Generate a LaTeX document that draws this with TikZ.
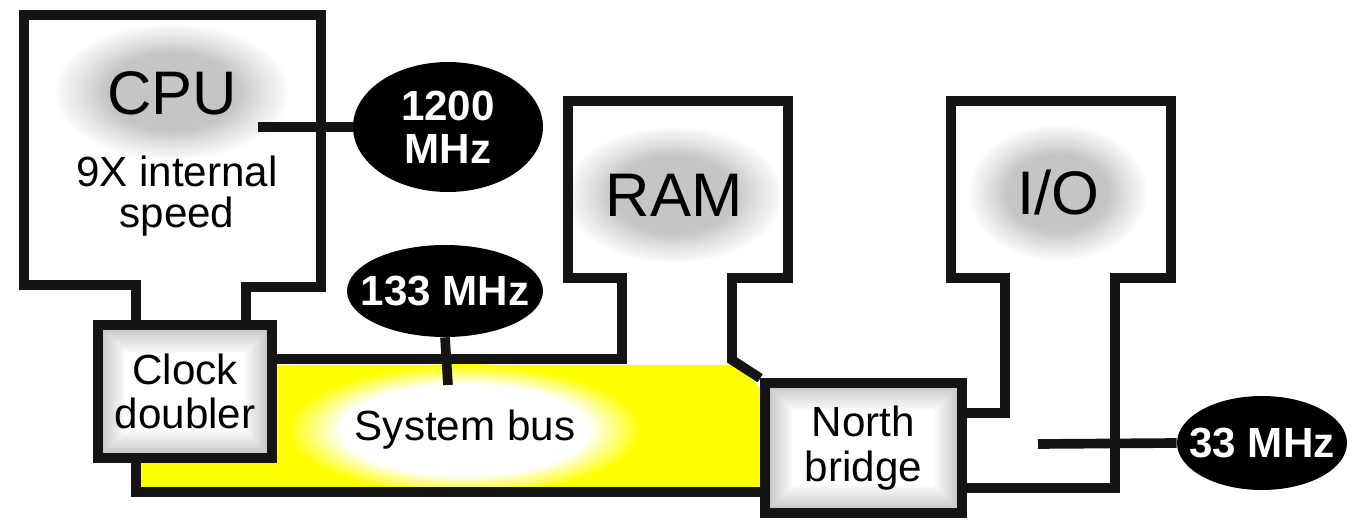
\documentclass[tikz,border=0pt]{standalone}
\usepackage{fontspec}
\setmainfont{Liberation Sans}
\usepackage{tikz}
\usetikzlibrary{shapes.geometric}
\definecolor{giallo}{HTML}{FFFF00}
\definecolor{alone}{HTML}{C4C4C4}

\begin{document}
\begin{tikzpicture}[x=0.02cm, y=-0.02cm,
    filo/.style={line width=5.5pt, black!92},
    chip/.style={draw=black!92, line width=5.5pt, fill=gray!50, align=center,
      font=\fontsize{24}{25.5}\selectfont,
      path picture={
        \foreach \d [evaluate=\d as \c using 50-2.5*\d] in {1,...,20}
          \fill[gray!\c] ([xshift=\d*0.8pt, yshift=-\d*0.8pt]path picture bounding box.north west)
            rectangle ([xshift=-\d*0.8pt, yshift=\d*0.8pt]path picture bounding box.south east);
      }},
    bolla/.style={ellipse, fill=black, inner sep=0pt},
    testobolla/.style={text=white, align=center, font=\bfseries\fontsize{24}{24.5}\selectfont},
    titolo/.style={anchor=base, font=\fontsize{35}{40}\selectfont},
    testo/.style={align=center, font=\fontsize{24}{23}\selectfont}]
  \useasboundingbox (0,0) rectangle (1353,520);
  % Bus di sistema
  \fill[giallo] (277,365) -- (738,365) -- (762,390) -- (762,488) -- (141,488)
    -- (141,463) -- (277,463) -- cycle;
  \foreach \i [evaluate=\i as \s using 1-\i*0.03, evaluate=\i as \p using {min(100,\i*10)}] in {0,...,15}
    \fill[white!\p!giallo] (465,430) ellipse ({180*\s} and {66*\s});
  % Aloni
  \foreach \i [evaluate=\i as \s using 1-\i*0.03, evaluate=\i as \p using \i*6.6] in {0,...,15} {
    \fill[alone!\p!white] (172,92) ellipse ({120*\s} and {70*\s});
    \fill[alone!\p!white] (674,195) ellipse ({112*\s} and {70*\s});
    \fill[alone!\p!white] (1058,193) ellipse ({92*\s} and {70*\s});
  }
  % Chip
  \node[chip, minimum width=3.48cm, minimum height=2.66cm] (cd) at (185,391.5) {Clock\\doubler};
  \node[chip, minimum width=3.94cm, minimum height=2.6cm] (nb) at (863.5,448) {North\\bridge};
  % Frequenze
  \node[bolla, minimum width=3.8cm, minimum height=2.6cm] (f1200) at (448,127) {};
  \node[testobolla] at (f1200) {1200\\MHz};
  \node[bolla, minimum width=3.92cm, minimum height=1.84cm] (f133) at (445,291) {};
  \node[testobolla] at (f133) {133 MHz};
  \node[bolla, minimum width=3.4cm, minimum height=1.88cm] (f33) at (1262,443) {};
  \node[testobolla] at (f33) {33 MHz};
  % Testi
  \node[titolo] (cpu) at (172,115) {CPU};
  \node[testo] (veloce) at (177,196) {9X internal\\speed};
  \node[titolo] (ram) at (674,217) {RAM};
  \node[titolo] (io) at (1058,215) {I/O};
  \node[testo] (bus) at (465,430) {System bus};
  % CPU
  \draw[filo] (136,0 |- cd.north) -- (136,285) -- (24,285) -- (24,15) -- (321,15)
    -- (321,287) -- (246,287) -- (246,0 |- cd.north);
  % RAM
  \draw[filo] (cd.east |- 0,359) -- (622,359) -- (622,278) -- (568,278) -- (568,101)
    -- (788,101) -- (788,278) -- (732,278) -- (732,360) -- (nb.north west);
  \draw[filo] (136,0 |- cd.south) -- (136,492) -- (nb.west |- 0,492);
  % I/O
  \draw[filo] (nb.east |- 0,413) -- (1005,413) -- (1005,278) -- (951,278) -- (951,101)
    -- (1171,101) -- (1171,278) -- (1115,278) -- (1115,488) -- (nb.east |- 0,488);
  % Sonde
  \draw[filo] (258,127) -- (f1200.west);
  \draw[filo] (448,385) -- (f133.south);
  \draw[filo] (1038,444) -- (f33.west);
\end{tikzpicture}
\end{document}
